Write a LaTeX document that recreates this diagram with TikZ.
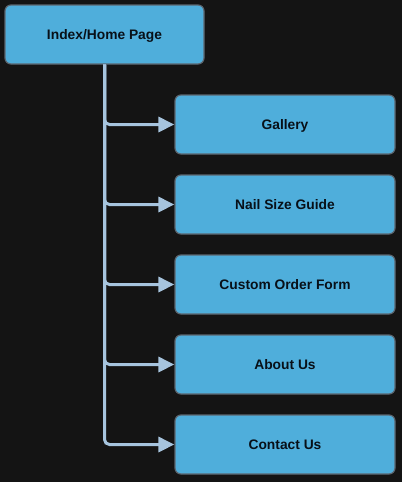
\documentclass[tikz,border=0pt]{standalone}
\usepackage{fontspec}
\setmainfont{Liberation Sans}
\usetikzlibrary{arrows.meta}

\definecolor{bgdark}{RGB}{20,20,20}
\definecolor{boxblue}{RGB}{79,174,219}
\definecolor{linkblue}{RGB}{166,196,222}
\definecolor{halo}{RGB}{92,102,112}
\definecolor{inkdark}{RGB}{8,16,24}

\tikzstyle{page}=[rectangle, rounded corners=6pt, fill=boxblue, draw=halo, line width=1.2pt, text=inkdark, font=\fontsize{13.8}{16}\selectfont\bfseries, inner sep=0pt, text height=9.9pt, text depth=0pt]
\tikzstyle{root}=[page, minimum width=199pt, minimum height=59pt]
\tikzstyle{leaf}=[page, minimum width=220pt, minimum height=59pt]
\tikzstyle{link}=[draw=linkblue, line width=3pt, rounded corners=5pt, -{Triangle[length=16pt,width=15pt]}]

\begin{document}
\begin{tikzpicture}[x=1pt, y=-1pt]
			%Dark background
			\fill[bgdark] (0,0) rectangle (402,482);
			\useasboundingbox (0,0) rectangle (402,482);
			%The root page
			\node[root] (home) at (104.5,34.5) {Index/Home Page};
			%The pages below it
			\foreach \ypos/\name/\txt in {124.5/gallery/Gallery, 204.5/sizes/Nail Size Guide,
									284.5/order/Custom Order Form, 364.5/about/About Us,
									444.5/contact/Contact Us}
			\node[leaf] (\name) at (285,\ypos) {\txt};
			%Links from the root
			\foreach \name in {gallery, sizes, order, about, contact}
			\draw[link] (home.south) |- (\name.west);
\end{tikzpicture}
\end{document}
